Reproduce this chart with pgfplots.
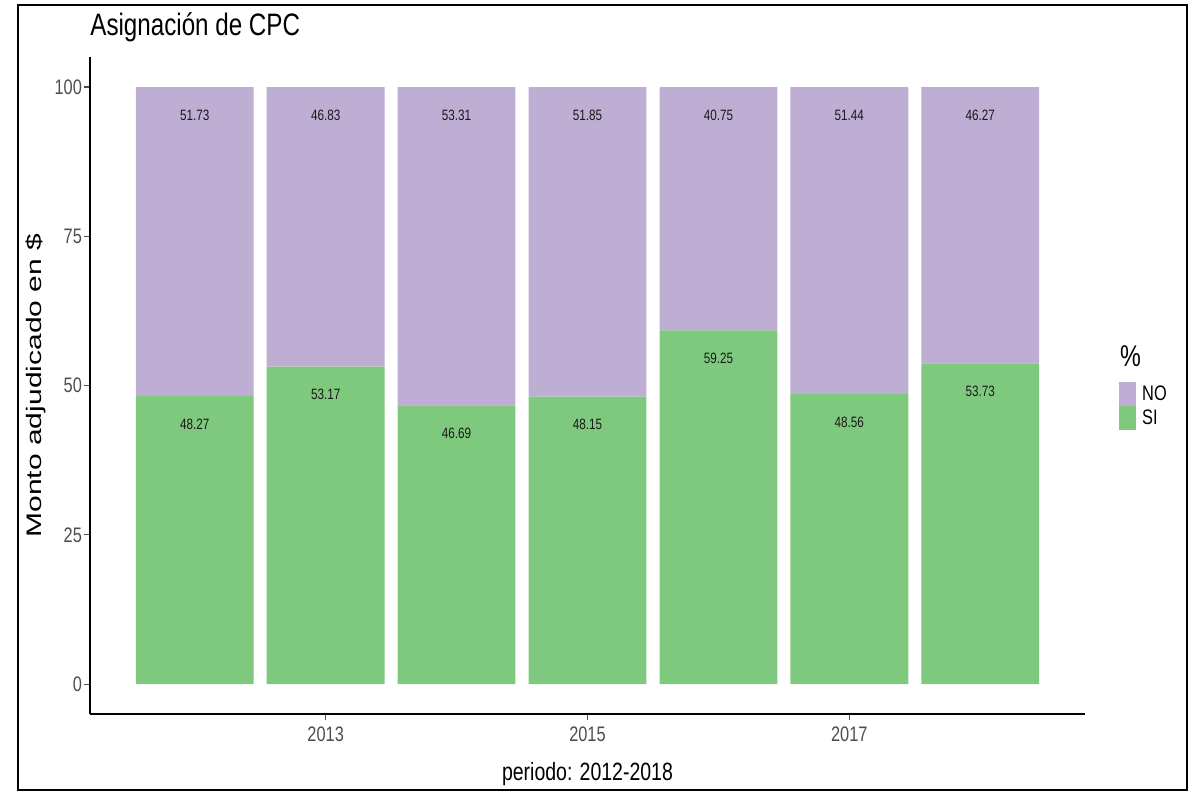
\documentclass[border=0pt]{standalone}
\usepackage{fontspec}
\setmainfont[FakeStretch=0.78]{Liberation Sans}
\newfontfamily\ylabfont{Liberation Sans}
\usepackage{graphicx}
\usepackage{pgfplots}
\usepackage{pgfplotstable}
\pgfplotsset{compat=1.18}

\definecolor{cpcno}{HTML}{BEAED4}
\definecolor{cpcsi}{HTML}{7FC97F}
\definecolor{tickgray}{HTML}{4D4D4D}

\pgfplotstableread{
year SI    NO
2012 48.27 51.73
2013 53.17 46.83
2014 46.69 53.31
2015 48.15 51.85
2016 59.25 40.75
2017 48.56 51.44
2018 53.73 46.27
}\cpcdata

\pgfplotsset{cpcbox/.style={
    scale only axis,
    width=497.5pt, height=328.4pt,
    xmin=2011.2, xmax=2018.8,
    ymin=-5, ymax=105,
    /pgf/number format/assume math mode=true}}

\begin{document}
\begin{tikzpicture}
\begin{axis}[
    name=ax, cpcbox, clip=false,
    ybar stacked, bar width=0.9,
    axis lines=left,
    axis line style={-, line width=0.9pt, black},
    xtick={2013,2015,2017},
    ytick={0,25,50,75,100},
    tick align=outside,
    major tick length=3pt,
    tick style={tickgray, line width=0.6pt},
    x tick label style={/pgf/number format/1000 sep={}},
    ticklabel style={font=\fontsize{10.5}{12}\selectfont, text=tickgray},
    yticklabel style={xshift=2.5pt},
    every axis title shift=0pt,
    title={Asignación de CPC},
    title style={at={(axis description cs:0,1.0337)}, anchor=base west,
        font=\fontsize{15.5}{18}\selectfont, inner sep=0pt},
    xlabel={periodo: 2012-2018},
    xlabel style={at={(axis description cs:0.5,-0.101)}, anchor=base,
        font=\fontsize{12.5}{15}\selectfont, inner sep=0pt},
    ylabel={\ylabfont\scalebox{1}[0.7]{Monto adjudicado en \$}},
    ylabel style={at={(axis description cs:-0.0543,0.5)}, anchor=center,
        font=\fontsize{15}{18}\selectfont, inner sep=0pt},
    reverse legend,
    legend image code/.code={\fill[#1] (0pt,-6pt) rectangle (8.5pt,6pt);},
    legend style={at={(axis description cs:1.034,0.5055)}, anchor=north west,
        draw=none, fill=none, inner sep=0pt, row sep=0pt,
        font=\fontsize{10.5}{12}\selectfont,
        nodes={inner sep=0pt, minimum height=12pt},
        cells={anchor=west},
        /tikz/every odd column/.append style={column sep=3pt}},
]
\addplot[fill=cpcsi, draw=none] table[x=year, y=SI] {\cpcdata};
\addlegendentry{SI}
\addplot[fill=cpcno, draw=none] table[x=year, y=NO] {\cpcdata};
\addlegendentry{NO}
\node[anchor=west, inner sep=0pt, font=\fontsize{15}{18}\selectfont]
    at (axis description cs:1.035,0.545) {\%};
\end{axis}
% value labels, just under the top of each segment
\begin{axis}[
    cpcbox, hide axis, clip=false,
    point meta=explicit,
    nodes near coords={\pgfmathprintnumber[fixed,fixed zerofill,precision=2]{\pgfplotspointmeta}},
    every node near coord/.append style={anchor=center, yshift=-14pt,
        font=\fontsize{7.5}{9}\selectfont, text=black!90},
]
\addplot[draw=none, mark=none] table[x=year, y=SI, meta=SI] {\cpcdata};
\addplot[draw=none, mark=none] table[x=year, y expr=\thisrow{SI}+\thisrow{NO}, meta=NO] {\cpcdata};
\end{axis}
\path[use as bounding box] ([shift={(-45pt,-39.5pt)}]ax.south west)
    rectangle ([shift={(550.5pt,357pt)}]ax.south west);
\draw[line width=1.4pt] ([shift={(-36pt,-38pt)}]ax.south west)
    rectangle ([shift={(548.5pt,354.5pt)}]ax.south west);
\end{tikzpicture}
\end{document}
